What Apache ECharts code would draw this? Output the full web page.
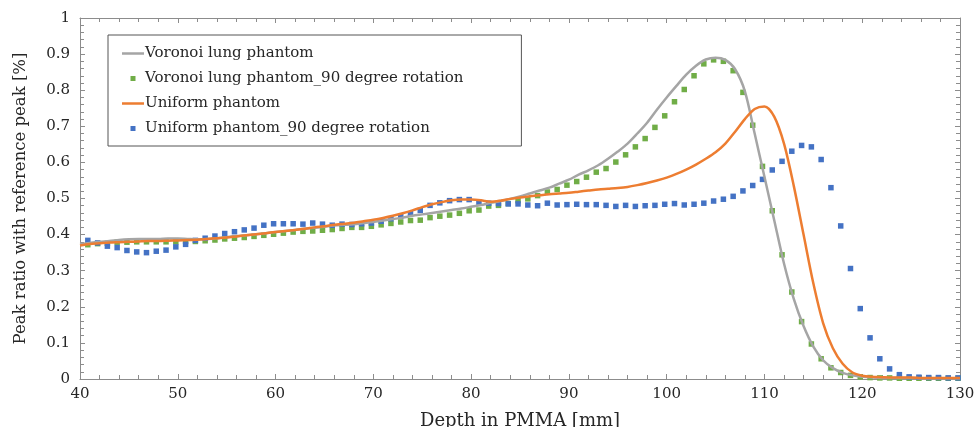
<!DOCTYPE html>
<html>
<head>
<meta charset="utf-8">
<script src="https://cdn.jsdelivr.net/npm/echarts@6/dist/echarts.min.js"></script>
<style>html,body{margin:0;padding:0;background:#fff}#c{width:977px;height:427px}</style>
</head>
<body>
<div id="c"></div>
<script>
// Depth grid for the solid lines (mm)
const lineDepth = [40,41,42,43,44,45,46,47,48,49,50,51,52,53,54,55,56,57,58,59,60,61,62,63,64,65,66,67,68,69,70,71,72,73,74,75,76,77,78,79,80,81,82,83,84,85,86,87,88,89,90,91,92,93,94,95,96,97,98,99,100,101,102,103,104,105,106,107,108,109,110,111,112,113,114,115,116,117,118,119,120,121,122,123,124,125,126,127,128,129,130];
// Depth grid for the marker series (mm)
const pointDepth = [40.8,41.8,42.8,43.8,44.8,45.8,46.8,47.8,48.8,49.8,50.8,51.8,52.8,53.8,54.8,55.8,56.8,57.8,58.8,59.8,60.8,61.8,62.8,63.8,64.8,65.8,66.8,67.8,68.8,69.8,70.8,71.8,72.8,73.8,74.8,75.8,76.8,77.8,78.8,79.8,80.8,81.8,82.8,83.8,84.8,85.8,86.8,87.8,88.8,89.8,90.8,91.8,92.8,93.8,94.8,95.8,96.8,97.8,98.8,99.8,100.8,101.8,102.8,103.8,104.8,105.8,106.8,107.8,108.8,109.8,110.8,111.8,112.8,113.8,114.8,115.8,116.8,117.8,118.8,119.8,120.8,121.8,122.8,123.8,124.8,125.8,126.8,127.8,128.8,129.8];

const voronoi = [0.374,0.377,0.380,0.382,0.385,0.387,0.388,0.388,0.388,0.389,0.389,0.388,0.387,0.388,0.390,0.393,0.396,0.398,0.401,0.404,0.407,0.410,0.413,0.416,0.419,0.422,0.425,0.427,0.429,0.432,0.435,0.439,0.443,0.447,0.452,0.456,0.460,0.464,0.468,0.472,0.477,0.482,0.488,0.493,0.499,0.506,0.514,0.522,0.530,0.541,0.552,0.566,0.578,0.592,0.610,0.630,0.652,0.680,0.710,0.746,0.780,0.812,0.843,0.868,0.885,0.890,0.884,0.858,0.797,0.680,0.560,0.440,0.320,0.222,0.147,0.090,0.052,0.030,0.017,0.010,0.006,0.004,0.003,0.003,0.003,0.003,0.002,0.002,0.002,0.002,0.002];

const voronoiRot = [0.372,0.375,0.376,0.379,0.379,0.380,0.380,0.380,0.380,0.380,0.381,0.381,0.383,0.385,0.388,0.390,0.392,0.395,0.398,0.401,0.404,0.407,0.409,0.410,0.412,0.414,0.417,0.420,0.420,0.423,0.427,0.431,0.435,0.439,0.440,0.447,0.451,0.454,0.459,0.466,0.468,0.479,0.481,0.486,0.494,0.499,0.508,0.518,0.525,0.537,0.547,0.559,0.573,0.583,0.601,0.621,0.643,0.666,0.697,0.729,0.768,0.802,0.840,0.873,0.884,0.880,0.854,0.794,0.703,0.589,0.466,0.344,0.241,0.159,0.097,0.056,0.031,0.018,0.010,0.006,0.004,0.003,0.003,0.002,0.002,0.002,0.002,0.002,0.002,0.002];

const uniform = [0.370,0.374,0.376,0.378,0.379,0.380,0.381,0.382,0.382,0.383,0.384,0.385,0.386,0.388,0.390,0.392,0.395,0.398,0.401,0.404,0.407,0.410,0.413,0.416,0.420,0.423,0.427,0.430,0.433,0.437,0.441,0.446,0.452,0.459,0.467,0.476,0.484,0.490,0.495,0.497,0.497,0.495,0.491,0.494,0.499,0.503,0.506,0.509,0.512,0.514,0.516,0.519,0.522,0.525,0.527,0.529,0.532,0.537,0.543,0.550,0.558,0.568,0.580,0.594,0.610,0.628,0.652,0.685,0.720,0.748,0.755,0.727,0.652,0.535,0.400,0.265,0.155,0.085,0.042,0.018,0.009,0.006,0.005,0.004,0.004,0.004,0.003,0.003,0.003,0.003,0.003];

const uniformRot = [0.384,0.377,0.368,0.364,0.356,0.352,0.350,0.354,0.357,0.366,0.373,0.384,0.390,0.396,0.403,0.408,0.413,0.418,0.426,0.430,0.430,0.430,0.429,0.432,0.429,0.426,0.429,0.428,0.430,0.432,0.437,0.444,0.451,0.458,0.467,0.481,0.488,0.494,0.497,0.497,0.490,0.487,0.486,0.485,0.485,0.482,0.480,0.487,0.482,0.483,0.484,0.483,0.483,0.481,0.478,0.481,0.478,0.480,0.481,0.484,0.486,0.482,0.484,0.487,0.493,0.498,0.506,0.521,0.536,0.553,0.579,0.603,0.631,0.647,0.643,0.608,0.530,0.424,0.306,0.195,0.114,0.056,0.028,0.012,0.006,0.005,0.004,0.004,0.003,0.003];

const seriesNames = ['Voronoi lung phantom','Voronoi lung phantom_90 degree rotation','Uniform phantom','Uniform phantom_90 degree rotation'];

const pair = (xs, ys) => xs.map((x, i) => [x, ys[i]]);
const FONT = 'DejaVu Serif';
const axisColor = '#8c8c8c';
const txt = '#262626';
const lineIcon = 'path://M0,0h22v2.5h-22z';
const dotIcon = 'path://M0,0h1v1h-1z';

const chart = echarts.init(document.getElementById('c'), null, {renderer: 'canvas'});
const baseAxis = {
  axisLine: {show: true, onZero: false, lineStyle: {color: axisColor, width: 1}},
  axisTick: {show: true, inside: true, length: 5, lineStyle: {color: axisColor}},
  minorTick: {show: true, splitNumber: 5, length: 4, lineStyle: {color: axisColor}},
  splitLine: {show: false}
};
chart.setOption({
  animation: false,
  backgroundColor: '#fff',
  grid: {left: 80, right: 17, top: 18, bottom: 48, containLabel: false, outerBoundsMode: 'none'},
  legend: {
    orient: 'vertical', left: 108, top: 35,
    padding: [11, 58, 10, 14],
    borderColor: '#555', borderWidth: 1,
    itemWidth: 22, itemHeight: 5, itemGap: 10,
    textStyle: {fontFamily: FONT, fontSize: 15, color: txt, padding: [0,0,0,-4]},
    data: [
      {name: seriesNames[0], icon: lineIcon},
      {name: seriesNames[1], icon: dotIcon},
      {name: seriesNames[2], icon: lineIcon},
      {name: seriesNames[3], icon: dotIcon}
    ]
  },
  xAxis: [
    Object.assign({}, baseAxis, {
      type: 'value', min: 40, max: 130, interval: 10, position: 'bottom',
      name: 'Depth in PMMA [mm]', nameLocation: 'middle', nameGap: 33,
      nameTextStyle: {fontFamily: FONT, fontSize: 18, color: txt},
      axisLabel: {fontFamily: FONT, fontSize: 15, color: txt, margin: 8}
    }),
    Object.assign({}, baseAxis, {
      type: 'value', min: 40, max: 130, interval: 10, position: 'top',
      axisLabel: {show: false}
    })
  ],
  yAxis: [
    Object.assign({}, baseAxis, {
      type: 'value', min: 0, max: 1, interval: 0.1, position: 'left',
      name: 'Peak ratio with reference peak [%]', nameLocation: 'middle', nameGap: 51,
      nameTextStyle: {fontFamily: FONT, fontSize: 16.5, color: txt},
      axisLabel: {fontFamily: FONT, fontSize: 15, color: txt, margin: 10}
    }),
    Object.assign({}, baseAxis, {
      type: 'value', min: 0, max: 1, interval: 0.1, position: 'right',
      axisLabel: {show: false}
    })
  ],
  series: [
    {
      name: seriesNames[0], type: 'line', xAxisIndex: 0, yAxisIndex: 0,
      data: pair(lineDepth, voronoi), showSymbol: false, symbol: 'none', smooth: 0.3,
      lineStyle: {color: '#a5a5a5', width: 2.5}, itemStyle: {color: '#a5a5a5'}
    },
    {
      name: seriesNames[1], type: 'scatter', xAxisIndex: 0, yAxisIndex: 0,
      data: pair(pointDepth, voronoiRot), symbol: 'rect', symbolSize: 5.5,
      itemStyle: {color: '#70ad47', opacity: 1}
    },
    {
      name: seriesNames[2], type: 'line', xAxisIndex: 0, yAxisIndex: 0,
      data: pair(lineDepth, uniform), showSymbol: false, symbol: 'none', smooth: 0.3,
      lineStyle: {color: '#ed7d31', width: 2.5}, itemStyle: {color: '#ed7d31'}
    },
    {
      name: seriesNames[3], type: 'scatter', xAxisIndex: 0, yAxisIndex: 0,
      data: pair(pointDepth, uniformRot), symbol: 'rect', symbolSize: 5.5,
      itemStyle: {color: '#4472c4', opacity: 1}
    }
  ]
});
</script>
</body>
</html>
